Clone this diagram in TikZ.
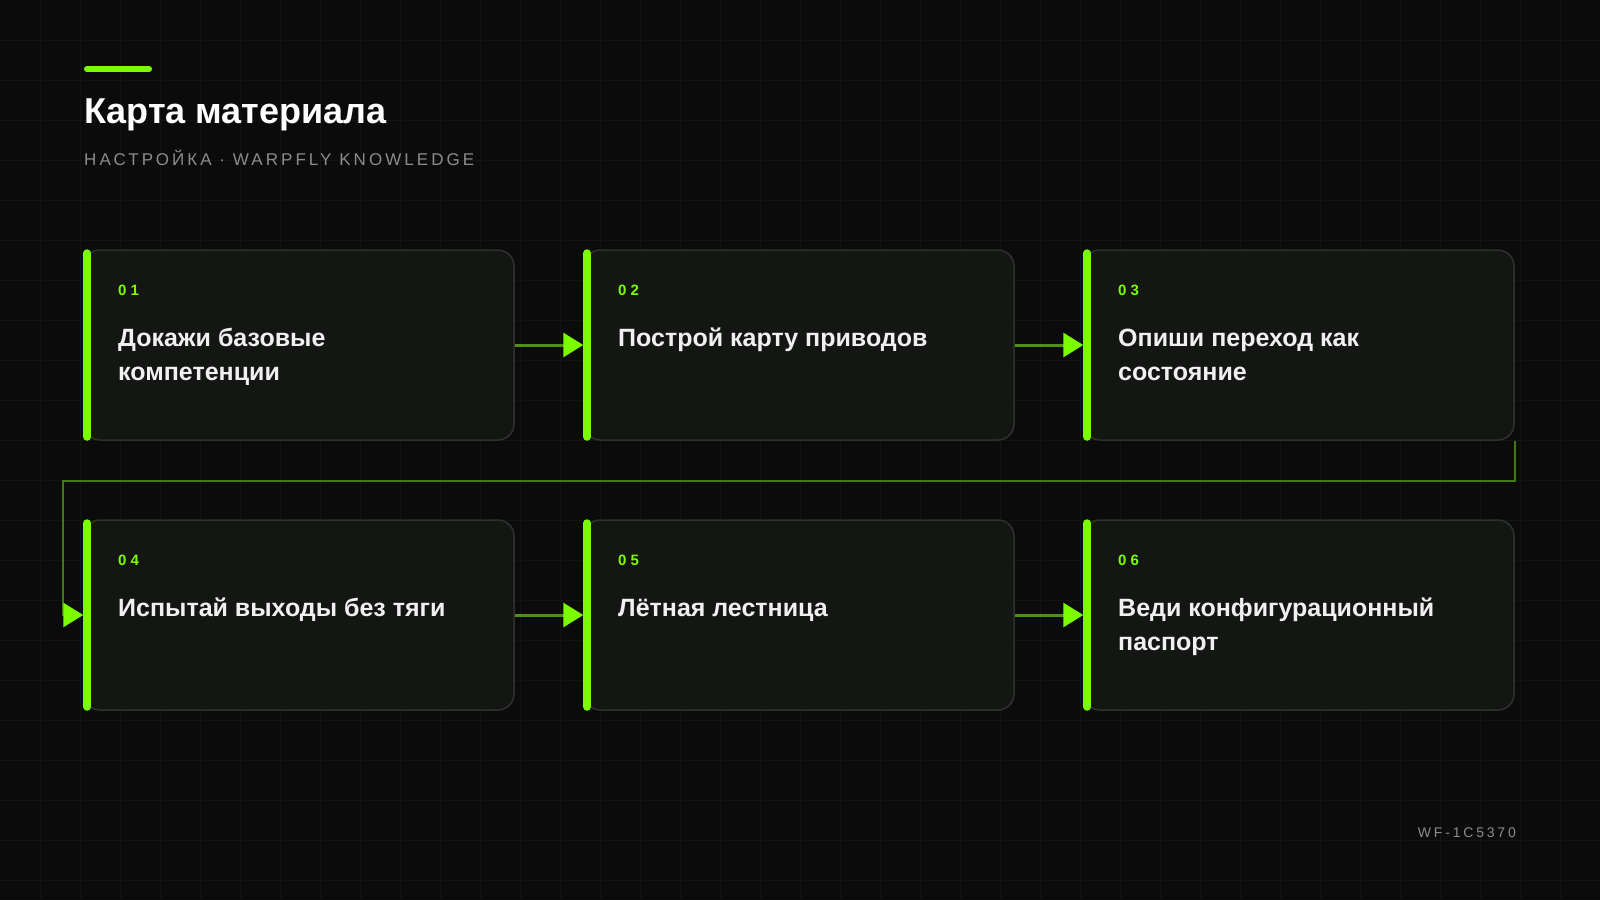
\documentclass[tikz,border=0pt]{standalone}
\usepackage{fontspec}
\setmainfont{Liberation Sans}
\newfontfamily\numfont[LetterSpace=28]{Liberation Sans}
\newfontfamily\codefont[LetterSpace=20]{Liberation Sans}
\newfontfamily\subfont[LetterSpace=18]{Liberation Sans}
\usetikzlibrary{arrows.meta}
\definecolor{bgc}{HTML}{0A0B0A}
\definecolor{gridc}{HTML}{111511}
\definecolor{cardfill}{HTML}{141614}
\definecolor{cardline}{HTML}{2E312E}
\definecolor{lime}{HTML}{7CFC00}
\definecolor{flowc}{HTML}{4F8F12}
\definecolor{routec}{HTML}{427A12}
\definecolor{subc}{HTML}{8C8C8C}
\tikzset{
  card/.style={draw=cardline, line width=1.5, fill=cardfill, rounded corners=16,
    minimum width=430, minimum height=190, inner sep=0},
  bar/.style={lime, line width=8, line cap=round},
  num/.style={font=\numfont\bfseries\fontsize{15}{18}\selectfont, text=lime, inner sep=0, anchor=base west},
  head/.style={font=\bfseries\fontsize{25}{34}\selectfont, text=white!94!black, align=left, inner sep=0, anchor=base west},
  flow/.style={flowc, line width=3, -{Triangle[length=20pt,width=24pt,color=lime]}},
  route/.style={routec, line width=2.5, -{Triangle[length=20pt,width=24pt,color=lime]}},
  gridline/.style={gridc, line width=0.8}
}
\begin{document}
\begin{tikzpicture}[x=1pt,y=-1pt]
\useasboundingbox (0,0) rectangle (1600,900);
\fill[bgc] (0,0) rectangle (1600,900);
\foreach \gx in {40,80,...,1560} \draw[gridline] (\gx,0) -- (\gx,900);
\foreach \gy in {40,80,...,880} \draw[gridline] (0,\gy) -- (1600,\gy);

\draw[lime, line width=6, line cap=round] (87,69) -- (149,69);
\path (84,123) node[anchor=base west, inner sep=0, text=white, font=\bfseries\fontsize{36}{40}\selectfont] (title) {Карта материала}
      (84,165) node[anchor=base west, inner sep=0, text=subc, font=\subfont\fontsize{17}{20}\selectfont] (sub) {НАСТРОЙКА · WARPFLY KNOWLEDGE}
      (1516,837) node[anchor=base east, inner sep=0, text=subc, font=\codefont\fontsize{14}{16}\selectfont] (code) {WF-1C5370};

\path (299,345) node[card] (c1) {}
      (799,345) node[card] (c2) {}
      (1299,345) node[card] (c3) {}
      (299,615) node[card] (c4) {}
      (799,615) node[card] (c5) {}
      (1299,615) node[card] (c6) {};

\foreach \c in {c1,c2,c3,c4,c5,c6}
  \draw[bar] ([xshift=4pt,yshift=-4pt]\c.north west) -- ([xshift=4pt,yshift=4pt]\c.south west);

\path (118,295) node[num] (n1) {01}
      (118,380) node[head] (t1) {Докажи базовые\\компетенции}
      (618,295) node[num] (n2) {02}
      (618,346) node[head] (t2) {Построй карту приводов}
      (1118,295) node[num] (n3) {03}
      (1118,380) node[head] (t3) {Опиши переход как\\состояние}
      (118,565) node[num] (n4) {04}
      (118,616) node[head] (t4) {Испытай выходы без тяги}
      (618,565) node[num] (n5) {05}
      (618,616) node[head] (t5) {Лётная лестница}
      (1118,565) node[num] (n6) {06}
      (1118,650) node[head] (t6) {Веди конфигурационный\\паспорт};

\coordinate (r4) at (63,615);
\draw[flow] (c1.east) -- (c2.west);
\draw[flow] (c2.east) -- (c3.west);
\draw[route] (c3.south east) -- ++(0,40) -| (r4) -- (c4.west);
\draw[flow] (c4.east) -- (c5.west);
\draw[flow] (c5.east) -- (c6.west);
\end{tikzpicture}
\end{document}
